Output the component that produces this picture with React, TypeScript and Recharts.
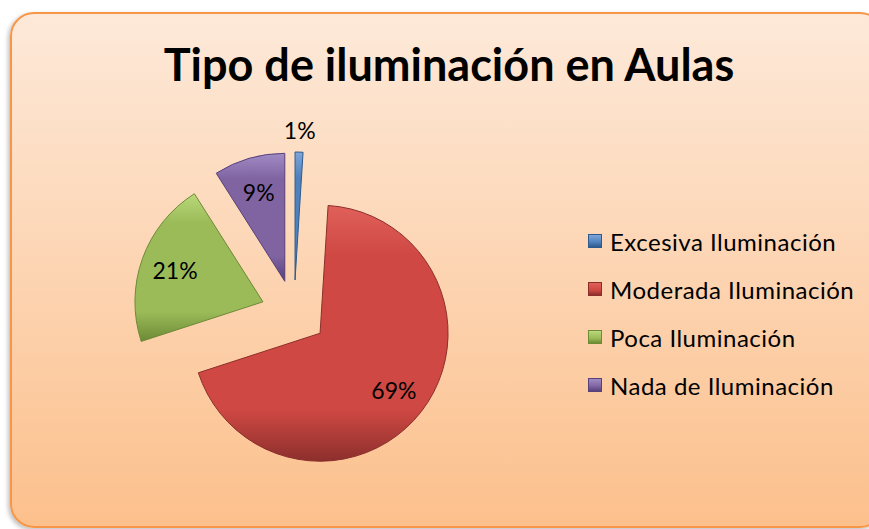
import { Cell, Legend, Pie, PieChart } from "recharts";

const categories = [
  "Excesiva Iluminación",
  "Moderada Iluminación",
  "Poca Iluminación",
  "Nada de Iluminación",
];
const shares = [1, 69, 21, 9];
const colors = ["#4f81bd", "#cf4843", "#9bbb59", "#8064a2"];
const light = ["#7ea6d8", "#e0605a", "#b9d97a", "#a08bc4"];
const dark = ["#2f5a8c", "#8c2f2c", "#6d8a35", "#57417a"];

const data = categories.map((name, i) => ({ name, value: shares[i] }));

const RADIAN = Math.PI / 180;
const CX = 294;
const CY = 313;
const R = 128;
const EXPLODE = 33;

const total = shares.reduce((a, b) => a + b, 0);
const offsets = shares.map((v, i) => {
  const before = shares.slice(0, i).reduce((a, b) => a + b, 0);
  const mid = 90 - (360 * (before + v / 2)) / total;
  return {
    dx: EXPLODE * Math.cos(mid * RADIAN),
    dy: -EXPLODE * Math.sin(mid * RADIAN),
  };
});

const font = "Lato, 'Open Sans', sans-serif";

const makeLabel = (own: number) => (props: any) => {
  const { cx, cy, midAngle, outerRadius, percent, index } = props;
  if (index !== own) return null;
  const r = percent < 0.05 ? outerRadius + 22 : outerRadius * 0.73;
  const x = cx + r * Math.cos(-midAngle * RADIAN);
  const y = cy + r * Math.sin(-midAngle * RADIAN);
  return (
    <text
      x={x}
      y={y}
      fill="#000"
      textAnchor="middle"
      dominantBaseline="central"
      fontSize={23}
      fontFamily={font}
    >
      {`${Math.round(percent * 100)}%`}
    </text>
  );
};

const LegendBox = () => (
  <div
    style={{ fontFamily: font, fontSize: 24, letterSpacing: 0.5, color: "#000" }}
  >
    {categories.map((name, i) => (
      <div
        key={name}
        style={{ display: "flex", alignItems: "center", height: 48 }}
      >
        <span
          style={{
            width: 14,
            height: 14,
            marginRight: 8,
            boxSizing: "border-box",
            border: `1px solid ${dark[i]}`,
            background: `linear-gradient(${light[i]}, ${colors[i]} 60%, ${dark[i]})`,
          }}
        />
        {name}
      </div>
    ))}
  </div>
);

export default function App() {
  return (
    <div
      style={{
        position: "absolute",
        left: 0,
        top: 0,
        width: 869,
        height: 529,
        overflow: "hidden",
        background: "#fff",
      }}
    >
      <div
        style={{
          position: "absolute",
          left: 10,
          top: 12,
          width: 874,
          height: 516,
          boxSizing: "border-box",
          border: "2px solid #f79646",
          borderRadius: 24,
          background: "linear-gradient(#fde9d9, #fcc08c)",
          boxShadow: "-2px 2px 4px rgba(0,0,0,0.25)",
        }}
      />
      <div
        style={{
          position: "absolute",
          left: 0,
          width: 898,
          top: 37,
          textAlign: "center",
          fontFamily: font,
          fontWeight: 700,
          fontSize: 45,
          color: "#000",
        }}
      >
        Tipo de iluminación en Aulas
      </div>
      <div style={{ position: "absolute", left: 0, top: 0 }}>
        <PieChart
          width={869}
          height={529}
          margin={{ top: 0, right: 0, bottom: 0, left: 0 }}
        >
          <defs>
            {colors.map((c, i) => (
              <linearGradient key={c} id={`g${i}`} x1="0" y1="0" x2="0" y2="1">
                <stop offset="0%" stopColor={light[i]} />
                <stop offset="20%" stopColor={c} />
                <stop offset="80%" stopColor={c} />
                <stop offset="100%" stopColor={dark[i]} />
              </linearGradient>
            ))}
          </defs>
          {offsets.map((o, own) => (
            <Pie
              key={own}
              data={data}
              dataKey="value"
              nameKey="name"
              cx={CX + o.dx}
              cy={CY + o.dy}
              outerRadius={R}
              startAngle={90}
              endAngle={-270}
              labelLine={false}
              label={makeLabel(own)}
              legendType="none"
              isAnimationActive={false}
            >
              {data.map((d, i) => (
                <Cell
                  key={d.name}
                  fill={i === own ? `url(#g${i})` : "none"}
                  stroke={i === own ? dark[i] : "none"}
                  strokeWidth={1}
                />
              ))}
            </Pie>
          ))}
          <Legend
            content={<LegendBox />}
            wrapperStyle={{ left: 588, top: 217, width: 280 }}
          />
        </PieChart>
      </div>
    </div>
  );
}
